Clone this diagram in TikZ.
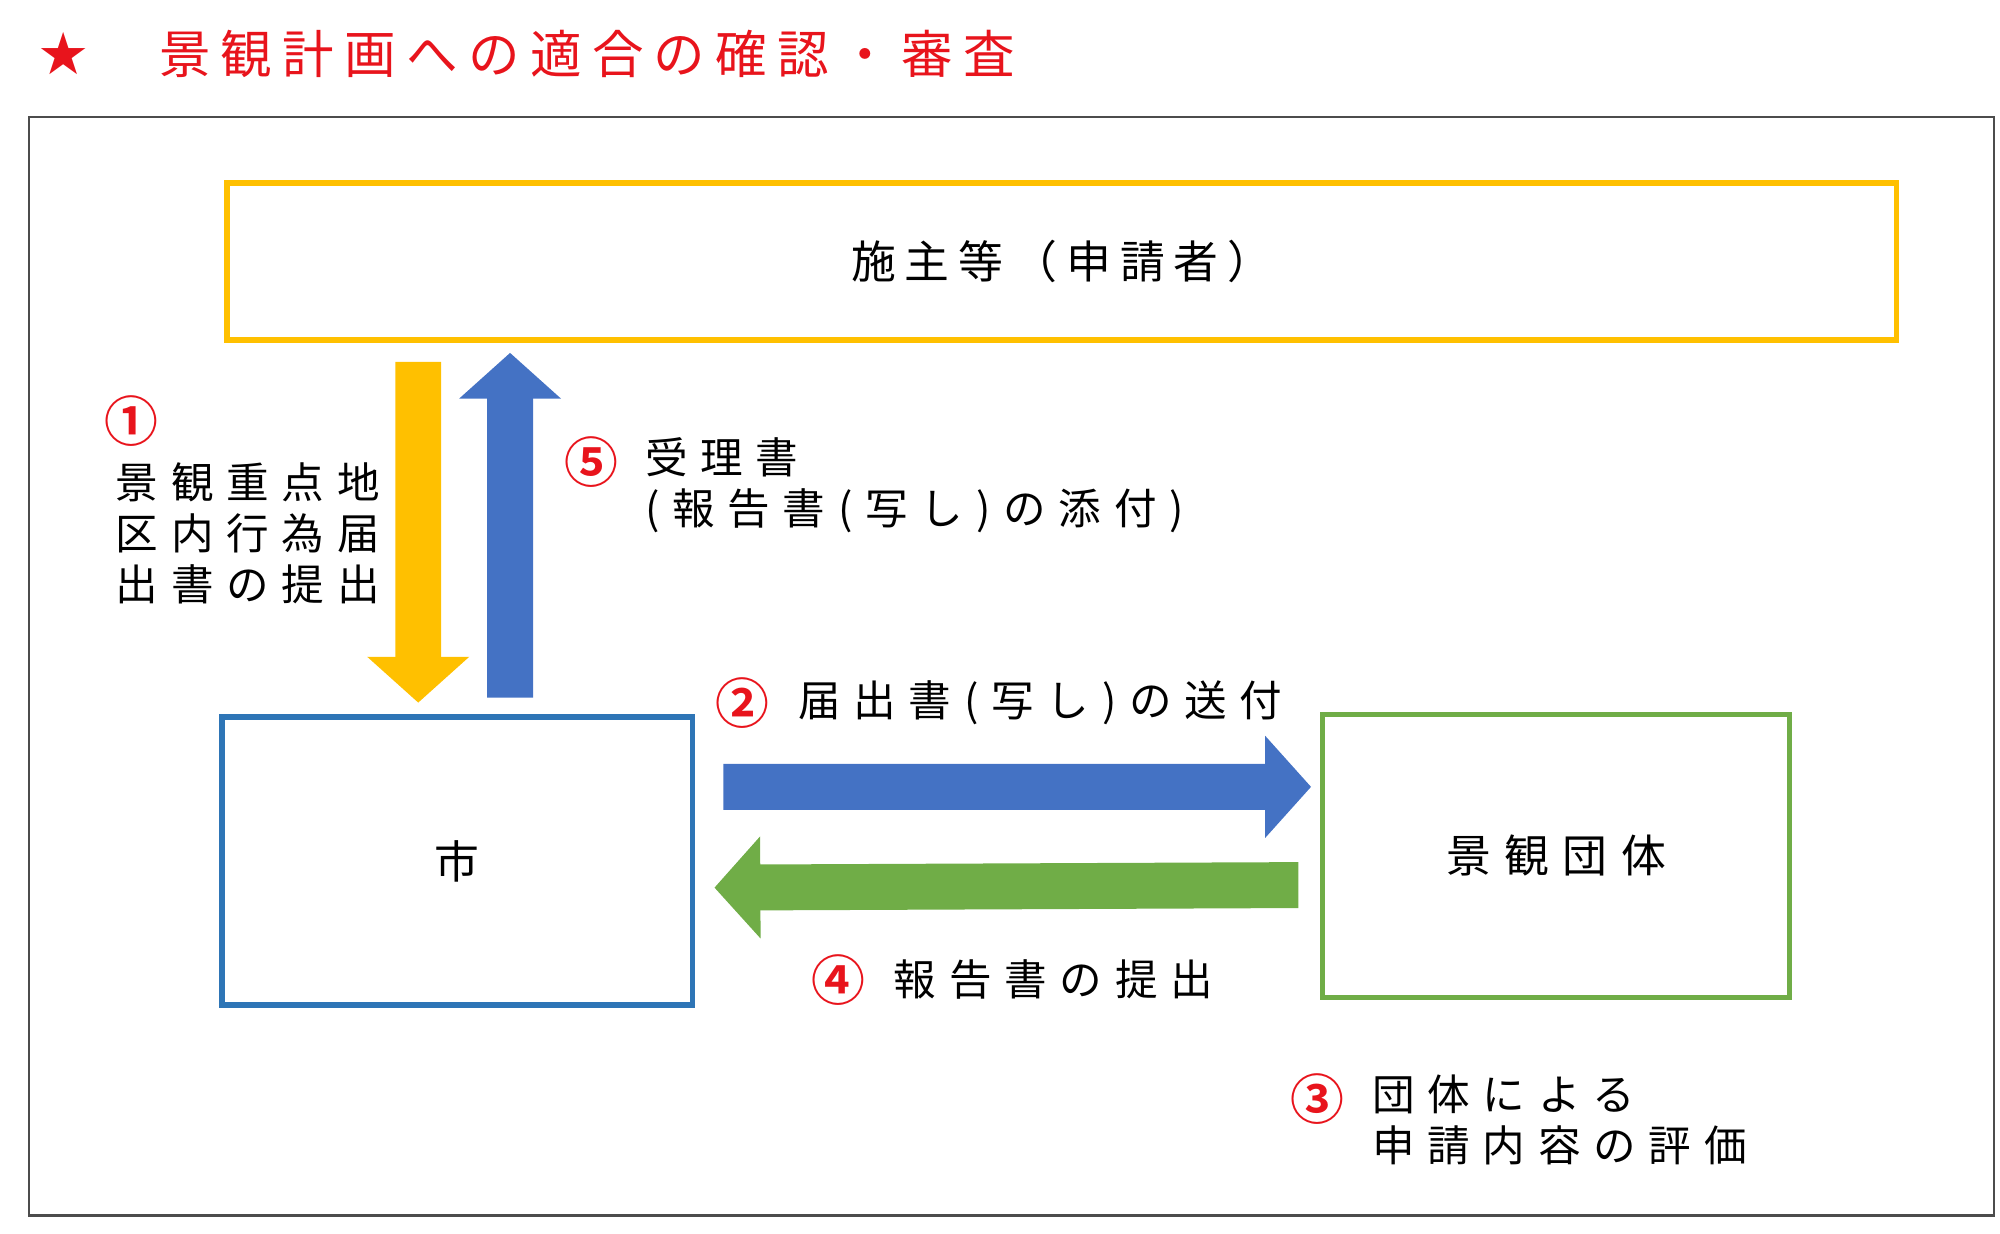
\documentclass[tikz,border=0pt]{standalone}
\usepackage{fontspec}
\usetikzlibrary{arrows.meta, positioning, calc}
\newfontfamily\jp{Noto Sans CJK JP}[LetterSpace=30]
\newfontfamily\jpt{Noto Sans CJK JP}[LetterSpace=20]
\newfontfamily\jpn{Noto Sans CJK JP Bold}
\newfontfamily\sym{DejaVu Sans}
\definecolor{kyellow}{HTML}{FFC000}
\definecolor{kblue}{HTML}{4472C4}
\definecolor{kframe}{HTML}{2E75B6}
\definecolor{kgreen}{HTML}{70AD47}
\definecolor{kred}{HTML}{E8141C}

\begin{document}
\begin{tikzpicture}[
    box/.style={
        rectangle,
        line width=1.2pt,
        font=\jp\fontsize{10}{12}\selectfont
    },
    label/.style={
        anchor=west,
        align=left,
        inner sep=0pt,
        font=\jp\fontsize{9.5}{11.4}\selectfont
    },
    num/.style={
        inner sep=0pt,
        text=kred,
        font=\jpn\fontsize{12}{14}\selectfont
    },
    bigarrow/.style={
        -{Triangle[length=0.36cm,width=0.78cm]},
        line width=0.36cm
    }
]
\useasboundingbox (0,0) rectangle (15.68,-9.67);

% Title
\node[text=kred, font=\sym\fontsize{13}{15}\selectfont] (star) at (0.5,-0.42) {★};
\node[label, text=kred, font=\jpt\fontsize{11.5}{14}\selectfont] (title) at (1.24,-0.42) {景観計画への適合の確認・審査};

% Frame
\draw[black!70, line width=0.5pt] (0.23,-0.92) rectangle (15.63,-9.53);

% Boxes
\node[box, draw=kyellow, minimum width=13.09cm, minimum height=1.23cm, font=\jpt\fontsize{10}{12}\selectfont] (owner) at (8.325,-2.05) {施主等（申請者）};
\node[box, draw=kframe, minimum width=3.69cm, minimum height=2.26cm] (city) at (3.585,-6.75) {市};
\node[box, draw=kgreen, minimum width=3.66cm, minimum height=2.22cm] (group) at (12.2,-6.71) {景観団体};

% Arrows
\draw[bigarrow, kyellow] ($(owner.south west)+(1.52,-0.15)$) -- ($(city.north west)+(1.56,0.09)$);
\draw[bigarrow, kblue] ($(city.north west)+(2.28,0.13)$) -- ($(owner.south west)+(2.24,-0.08)$);
\draw[bigarrow, kblue] ($(city.north east)+(0.22,-0.57)$) -- ($(group.north west)+(-0.07,-0.59)$);
\draw[bigarrow, kgreen] ($(group.north west)+(-0.17,-1.36)$) -- ($(city.north east)+(0.15,-1.36)$);

% Labels
\node[num] (n1) at (1.03,-3.30) {①};
\node[label, anchor=north west] (l1) at (0.90,-3.62) {景観重点地\\区内行為届\\出書の提出};
\node[num] (n5) at (4.64,-3.62) {⑤};
\node[label, anchor=north west] (l5) at (5.05,-3.42) {受理書\\(報告書(写し)の添付)};
\node[num] (n2) at (5.82,-5.51) {②};
\node[label] (l2) at (6.25,-5.51) {届出書(写し)の送付};
\node[num] (n4) at (6.57,-7.68) {④};
\node[label] (l4) at (7.00,-7.68) {報告書の提出};
\node[num] (n3) at (10.33,-8.62) {③};
\node[label, anchor=north west] (l3) at (10.75,-8.42) {団体による\\申請内容の評価};
\end{tikzpicture}
\end{document}
